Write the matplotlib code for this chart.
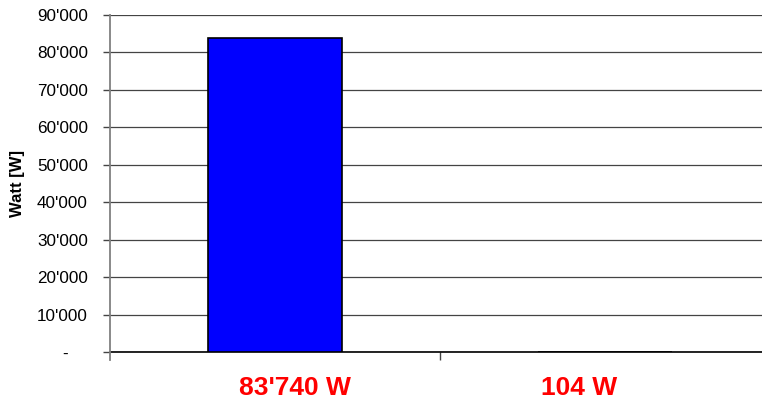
import matplotlib
matplotlib.use("Agg")
import matplotlib.pyplot as plt
from matplotlib.ticker import FuncFormatter, MultipleLocator
from matplotlib.transforms import offset_copy

categories = ["83'740 W", "104 W"]
values = [83740, 104]
ymax = 90000
ystep = 10000

plt.rcParams['font.family'] = ['Liberation Sans', 'DejaVu Sans']

fig = plt.figure(figsize=(7.62, 4.05), dpi=100)
W, H = 762, 405
left, right, top, bottom = 110, 770, 15, 352
ax = fig.add_axes([left / W, 1 - bottom / H, (right - left) / W, (bottom - top) / H])

x = list(range(len(categories)))
ax.bar(x, values, width=0.406, color='#0000FF', edgecolor='black', linewidth=1.2, zorder=3)

ax.set_xlim(-0.5, len(categories) - 0.5)
ax.set_ylim(0, ymax)
ax.yaxis.set_major_locator(MultipleLocator(ystep))

def fmt(v, pos):
    if v == 0:
        return '-    '
    return f"{int(v):,}".replace(',', "'")

ax.yaxis.set_major_formatter(FuncFormatter(fmt))
ax.grid(axis='y', color='#444444', linewidth=0.9, zorder=1)
ax.set_axisbelow(True)

for s in ['top', 'right', 'left']:
    ax.spines[s].set_visible(False)
ax.spines['bottom'].set_color('black')
ax.spines['bottom'].set_linewidth(1.2)
# left axis line extending slightly below zero
ax.plot([0, 0], [-0.024, 1], transform=ax.transAxes, color='#808080',
        linewidth=1.3, clip_on=False, zorder=4)

ax.tick_params(axis='y', direction='out', length=5, width=1, color='#444444',
               labelsize=12.3, pad=11)

# category separators as x ticks
ax.set_xticks([0.5])
ax.set_xticklabels([''])
ax.tick_params(axis='x', direction='out', length=6, width=1, color='#444444')

label_offsets = [14, -19]  # points, horizontal nudge of category labels
for i, c in enumerate(categories):
    tr = offset_copy(ax.get_xaxis_transform(), fig=fig, x=label_offsets[i], y=0, units='points')
    ax.text(i, -0.107, c, transform=tr, ha='center', va='center',
            color='red', fontsize=19, fontweight='bold')

ax.set_ylabel('Watt [W]', fontsize=12, fontweight='bold')
ax.yaxis.set_label_coords((17 - left) / (right - left), 0.5)
ax.yaxis.label.set_verticalalignment('center')

fig.savefig('out.png', dpi=100)
